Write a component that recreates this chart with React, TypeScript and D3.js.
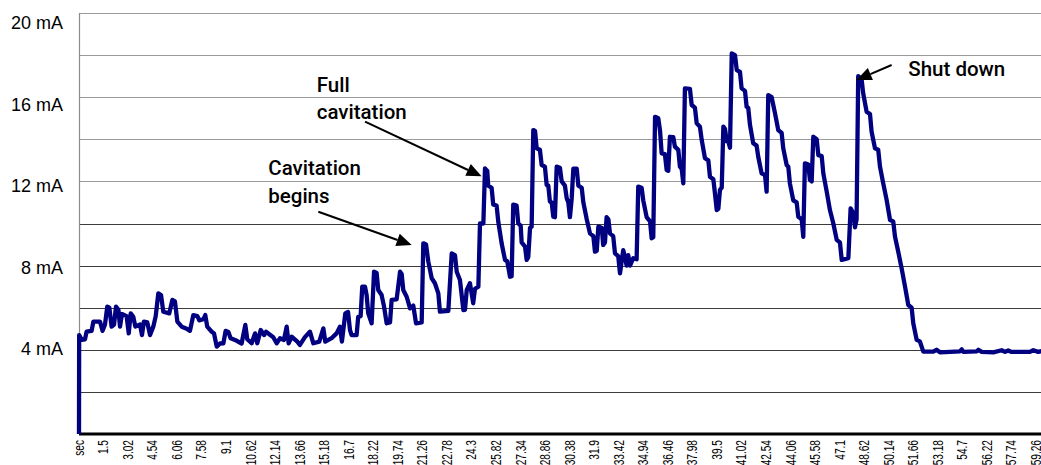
import * as d3 from "d3";

// sampled pump current (mA) against time (s)
const times = [
  0, 0.01, 0.17, 0.37, 0.47, 0.78, 0.89, 1.3, 1.46, 1.61, 1.75, 1.88, 2.02, 2.17, 2.29, 2.44, 2.54, 2.66, 2.95, 3.08,
  3.2, 3.36, 3.49, 3.78, 3.9, 4.02, 4.23, 4.4, 4.6, 4.75, 4.91, 5.08, 5.22, 5.59, 5.78, 5.94, 6.09, 6.36, 6.67, 6.87,
  7.08, 7.33, 7.45, 7.7, 7.82, 7.94, 8.22, 8.36, 8.53, 8.73, 8.94, 9.08, 9.25, 9.39, 9.66, 10.07, 10.3, 10.42, 10.69, 10.9,
  11.04, 11.25, 11.46, 11.58, 12.03, 12.24, 12.45, 12.69, 12.86, 12.98, 13.17, 13.52, 13.68, 13.99, 14.3, 14.51, 14.88, 15.13, 15.25, 15.64,
  15.95, 16.16, 16.28, 16.49, 16.66, 16.78, 16.88, 17.19, 17.29, 17.44, 17.54, 17.71, 17.81, 17.91, 18.12, 18.27, 18.43, 18.53, 18.74, 18.89,
  19.05, 19.26, 19.36, 19.67, 19.88, 19.98, 20.08, 20.29, 20.5, 20.7, 20.87, 21.22, 21.32, 21.49, 21.63, 21.84, 22.04, 22.25, 22.35, 22.87,
  23.08, 23.28, 23.39, 23.59, 23.8, 23.9, 24.01, 24.21, 24.41, 24.52, 24.73, 24.83, 25.04, 25.14, 25.28, 25.34, 25.55, 25.65, 25.86, 25.96,
  26.17, 26.38, 26.52, 26.69, 26.79, 26.89, 27.1, 27.2, 27.35, 27.41, 27.62, 27.72, 27.82, 27.93, 28.03, 28.13, 28.24, 28.34, 28.54, 28.65,
  28.85, 28.96, 29.06, 29.16, 29.27, 29.37, 29.47, 29.58, 29.78, 29.89, 30.09, 30.2, 30.3, 30.4, 30.51, 30.61, 30.82, 30.92, 31.13, 31.23,
  31.44, 31.64, 31.85, 31.95, 32.06, 32.16, 32.37, 32.46, 32.57, 32.67, 32.78, 32.88, 33.08, 33.19, 33.39, 33.5, 33.6, 33.7, 33.81, 33.91,
  34.01, 34.12, 34.32, 34.53, 34.63, 34.84, 34.94, 35.15, 35.36, 35.46, 35.56, 35.67, 35.87, 35.98, 36.08, 36.28, 36.39, 36.49, 36.59, 36.8,
  36.9, 37.11, 37.21, 37.32, 37.42, 37.52, 37.83, 37.94, 38.14, 38.25, 38.45, 38.56, 38.76, 38.97, 39.07, 39.28, 39.38, 39.49, 39.59, 39.69,
  39.8, 39.9, 40.0, 40.11, 40.21, 40.31, 40.42, 40.62, 40.73, 40.93, 41.03, 41.24, 41.34, 41.44, 41.55, 41.75, 41.96, 42.06, 42.27, 42.48,
  42.58, 42.68, 42.89, 43.1, 43.3, 43.51, 43.61, 43.82, 43.92, 44.02, 44.23, 44.44, 44.54, 44.75, 44.85, 44.95, 45.16, 45.26, 45.37, 45.47,
  45.68, 45.78, 45.99, 46.09, 46.3, 46.5, 46.71, 46.92, 47.12, 47.23, 47.64, 47.78, 47.95, 48.05, 48.15, 48.25, 48.46, 48.56, 48.77, 48.98,
  49.08, 49.29, 49.49, 49.6, 49.8, 50.01, 50.22, 50.42, 50.53, 50.73, 50.94, 51.15, 51.35, 51.56, 51.66, 51.87, 52.07, 52.28, 52.9, 53.1,
  53.31, 54.55, 54.66, 54.76, 55.59, 55.69, 55.9, 56.62, 57.13, 57.34, 57.54, 57.75, 58.88, 59.09, 59.4, 59.7,
];
const currents = [
  0, 4.7, 4.47, 4.5, 4.86, 4.9, 5.34, 5.34, 4.9, 5.2, 6.05, 6.0, 5.1, 5.2, 6.05, 5.9, 5.1, 5.7, 5.6, 4.78,
  5.73, 5.57, 5.1, 5.2, 4.7, 5.34, 5.3, 4.7, 5.1, 5.6, 6.68, 6.6, 5.81, 5.73, 6.37, 6.3, 5.34, 5.1, 5.0, 4.9,
  5.65, 5.6, 5.4, 5.45, 5.65, 5.1, 4.86, 4.78, 4.15, 4.3, 4.31, 4.9, 4.85, 4.55, 4.47, 4.3, 5.18, 4.5, 4.31, 4.78,
  4.31, 4.94, 4.7, 4.86, 4.6, 4.31, 4.55, 4.47, 5.1, 4.31, 4.62, 4.39, 4.23, 4.6, 4.86, 4.31, 4.39, 5.02, 4.39, 4.55,
  4.78, 5.1, 4.39, 5.73, 5.8, 4.94, 4.7, 4.7, 5.57, 5.6, 7.0, 7.0, 6.6, 5.73, 5.26, 7.71, 7.65, 6.84, 6.6, 6.05,
  5.26, 5.3, 6.37, 6.4, 7.71, 7.6, 6.84, 6.52, 5.97, 6.1, 5.26, 5.3, 9.06, 9.0, 8.19, 7.4, 7.16, 6.68, 5.81, 5.85,
  8.58, 8.5, 7.71, 7.32, 5.89, 5.9, 6.84, 7.16, 6.21, 6.9, 7.0, 10.0, 10.0, 12.62, 12.5, 11.8, 11.7, 10.9, 10.85, 10.1,
  9.06, 8.27, 8.2, 7.47, 7.5, 10.9, 10.85, 10.0, 9.9, 9.1, 8.9, 8.27, 8.4, 9.8, 9.85, 14.44, 14.4, 13.57, 13.5, 12.78,
  12.7, 11.83, 11.8, 11.04, 11.0, 10.32, 10.3, 12.7, 12.65, 12.0, 11.8, 11.2, 11.0, 10.3, 11.2, 12.6, 12.6, 11.8, 11.7, 11.0,
  10.2, 9.53, 9.4, 8.66, 8.7, 9.85, 9.8, 8.98, 9.1, 10.3, 10.2, 9.53, 9.4, 8.58, 8.45, 7.63, 8.2, 8.73, 8.4, 8.0,
  8.5, 8.0, 8.35, 8.3, 11.75, 11.7, 11.1, 10.3, 10.1, 9.3, 9.35, 15.07, 15.0, 14.4, 13.33, 13.3, 12.54, 12.5, 14.12, 14.1,
  13.65, 13.5, 12.7, 12.6, 11.91, 16.42, 16.4, 15.63, 15.5, 14.76, 14.6, 13.97, 13.1, 13.0, 12.22, 12.1, 11.43, 10.64, 10.7, 11.6,
  11.7, 14.6, 14.5, 13.9, 13.89, 13.6, 18.08, 18.0, 17.29, 17.2, 16.42, 16.3, 15.55, 15.5, 14.68, 13.81, 13.7, 13.17, 12.38, 12.3,
  11.51, 16.1, 16.0, 15.23, 14.44, 14.3, 13.57, 12.78, 12.7, 11.91, 11.1, 11.0, 10.32, 10.2, 9.37, 12.86, 12.8, 12.07, 12.0, 14.12,
  14.0, 13.25, 13.2, 12.38, 11.51, 10.64, 10.0, 9.22, 9.1, 8.27, 8.35, 10.72, 10.5, 9.82, 10.2, 17.0, 16.85, 16.18, 15.31, 15.2,
  14.36, 13.57, 13.5, 12.7, 11.91, 11.12, 10.17, 10.1, 9.37, 8.66, 7.87, 7.0, 6.13, 6.0, 5.26, 4.47, 4.4, 3.91, 3.91, 4.0,
  3.88, 3.93, 4.02, 3.9, 3.93, 4.0, 3.9, 3.88, 3.98, 3.9, 3.97, 3.9, 3.9, 3.98, 3.9, 3.95,
];

const yTicks = [4, 8, 12, 16, 20];
const gridValues = [2, 4, 6, 8, 10, 12, 14, 16, 18, 20];
const xTickValues = [
  0, 1.5, 3.02, 4.54, 6.06, 7.58, 9.1, 10.62, 12.14, 13.66, 15.18, 16.7, 18.22, 19.74, 21.26, 22.78, 24.3, 25.82, 27.34, 28.86,
  30.38, 31.9, 33.42, 34.94, 36.46, 37.98, 39.5, 41.02, 42.54, 44.06, 45.58, 47.1, 48.62, 50.14, 51.66, 53.18, 54.7, 56.22, 57.74, 59.26,
];
const xTickLabels = xTickValues.map((v, i) => (i === 0 ? "sec" : String(v)));

// annotations: text lines + arrow tail/tip in data units
const notes = [
  { lines: ["Full", "cavitation"], tx: 14.72, ty: [16.26, 14.95], from: [17.71, 14.84], to: [24.93, 12.24] },
  { lines: ["Cavitation", "begins"], tx: 11.72, ty: [12.3, 10.96], from: [14.82, 10.56], to: [20.6, 8.98] },
  { lines: ["Shut down"], tx: 51.35, ty: [17.0], from: [50.32, 17.53], to: [48.15, 16.82] },
];

const W = 1041;
const H = 465;

export default function App() {
  const x = d3.scaleLinear().domain([0, 59.26]).range([79, 1036]);
  const y = d3.scaleLinear().domain([0, 20]).range([434, 13]);
  const yLabel = d3.scaleLinear().domain([4, 20]).range([355, 29]);

  const pts = times.map((t, i) => [t, currents[i]] as [number, number]);
  const line = d3
    .line<[number, number]>()
    .x((d) => x(d[0]))
    .y((d) => y(d[1]));

  const arrow = (from: number[], to: number[]) => {
    const x1 = x(from[0]), y1 = y(from[1]);
    const x2 = x(to[0]), y2 = y(to[1]);
    const a = Math.atan2(y2 - y1, x2 - x1);
    const len = 15, hw = 6.5;
    const bx = x2 - len * Math.cos(a), by = y2 - len * Math.sin(a);
    const p1 = [bx + hw * Math.sin(a), by - hw * Math.cos(a)];
    const p2 = [bx - hw * Math.sin(a), by + hw * Math.cos(a)];
    return { x1, y1, bx, by, head: `${x2},${y2} ${p1[0]},${p1[1]} ${p2[0]},${p2[1]}` };
  };

  return (
    <svg
      width={W}
      height={H}
      style={{ position: "absolute", left: 0, top: 0, background: "#fff" }}
    >
      {/* gridlines */}
      {gridValues.map((v) => (
        <line
          key={v}
          x1={79}
          x2={W}
          y1={Math.round(y(v)) + 0.5}
          y2={Math.round(y(v)) + 0.5}
          stroke={v >= 12 ? "#9a9a9a" : "#3c3c3c"}
          strokeWidth={1.2}
        />
      ))}
      {/* y axis */}
      <line x1={79.5} x2={79.5} y1={y(20)} y2={y(0)} stroke="#8c8c8c" strokeWidth={1.2} />
      {yTicks.map((v) => (
        <text
          key={v}
          x={63}
          y={yLabel(v)}
          textAnchor="end"
          fontFamily="'Liberation Sans', Arial, sans-serif"
          fontSize={18}
          fill="#000"
        >
          {v} mA
        </text>
      ))}
      {/* x axis */}
      <line x1={79} x2={W} y1={434} y2={434} stroke="#000" strokeWidth={3} />
      {xTickValues.map((v, i) => (
        <text
          key={i}
          transform={`translate(${x(v) + 5},440) rotate(-90) scale(0.7,1)`}
          textAnchor="end"
          fontFamily="'Liberation Sans', Arial, sans-serif"
          fontSize={14.5}
          fill="#000"
        >
          {xTickLabels[i]}
        </text>
      ))}
      {/* series */}
      <path
        d={line(pts) || ""}
        fill="none"
        stroke="#000080"
        strokeWidth={4.3}
        strokeLinejoin="round"
        strokeLinecap="butt"
      />
      {/* annotations */}
      {notes.map((n, i) => {
        const a = arrow(n.from, n.to);
        return (
          <g key={i}>
            {n.lines.map((s, j) => (
              <text
                key={j}
                x={x(n.tx)}
                y={y(n.ty[j])}
                fontFamily="Roboto, sans-serif"
                fontWeight={500}
                fontSize={20.5}
                fill="#000"
              >
                {s}
              </text>
            ))}
            <line x1={a.x1} y1={a.y1} x2={a.bx} y2={a.by} stroke="#000" strokeWidth={2} />
            <polygon points={a.head} fill="#000" />
          </g>
        );
      })}
    </svg>
  );
}
